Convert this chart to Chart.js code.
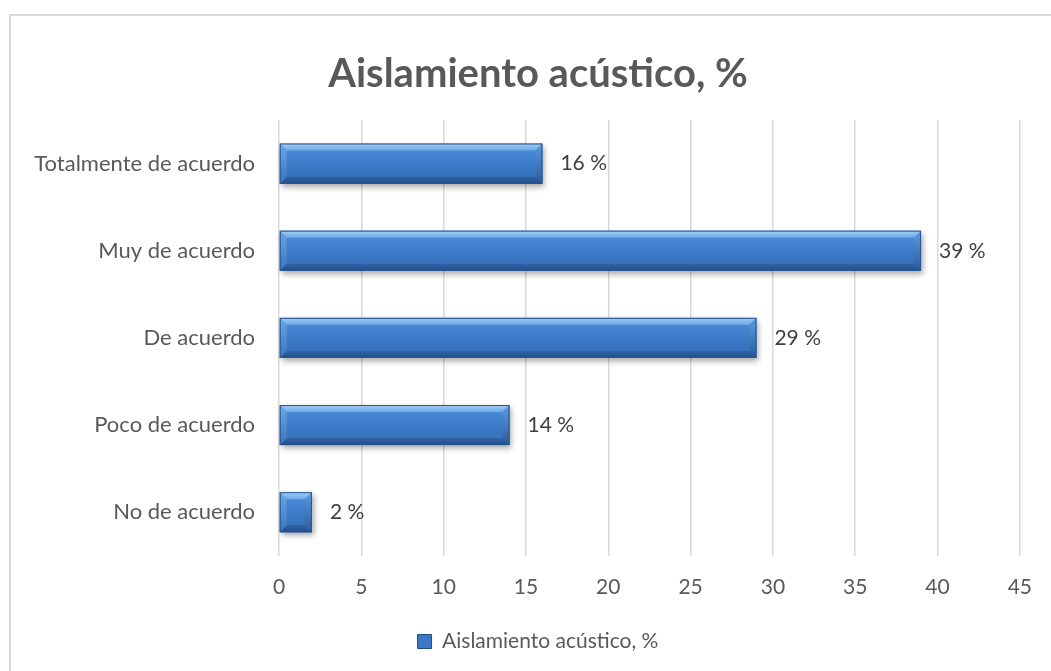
<!DOCTYPE html>
<html lang="es">
<head>
<meta charset="UTF-8">
<title>Aislamiento acústico, %</title>
<script src="https://cdn.jsdelivr.net/npm/chart.js"></script>
<style>
    html, body {
        margin: 0;
        padding: 0;
        background: #ffffff;
        overflow: hidden;
    }
    .wrap {
        position: relative;
        width: 1051px;
        height: 671px;
    }
    /* frame of the chart object, only top and left edges are in view */
    .frame {
        position: absolute;
        left: 9px;
        top: 14px;
        right: -20px;
        bottom: -20px;
        border-left: 2px solid #d9d9d9;
        border-top: 2px solid #d9d9d9;
    }
    #chart {
        position: absolute;
        left: 0;
        top: 0;
    }
</style>
</head>
<body>
<div class="wrap">
    <div class="frame"></div>
    <canvas id="chart" width="1051" height="671"></canvas>
</div>

<script>
    const categories = ['Totalmente de acuerdo', 'Muy de acuerdo', 'De acuerdo', 'Poco de acuerdo', 'No de acuerdo'];
    const percentValues = [16, 39, 29, 14, 2];
    const seriesName = 'Aislamiento acústico, %';
    const axisMax = 45;
    const axisStep = 5;

    const FONT = "Lato, 'Open Sans', sans-serif";

    function poly(ctx, pts, fill) {
        ctx.beginPath();
        ctx.moveTo(pts[0][0], pts[0][1]);
        for (let i = 1; i < pts.length; i++) ctx.lineTo(pts[i][0], pts[i][1]);
        ctx.closePath();
        ctx.fillStyle = fill;
        ctx.fill();
    }

    // bevelled 3D look of the Office bar style
    function drawBevelBar(ctx, x0, x1, yc, h) {
        const top = yc - h / 2, bot = yc + h / 2, w = x1 - x0;
        const b = Math.min(7, w / 2.5, h / 4);

        ctx.save();
        ctx.shadowColor = 'rgba(0,0,0,0.35)';
        ctx.shadowBlur = 6;
        ctx.shadowOffsetX = 2;
        ctx.shadowOffsetY = 3;
        const g = ctx.createLinearGradient(0, top, 0, bot);
        g.addColorStop(0, '#4f8fdb');
        g.addColorStop(0.5, '#3d7cc9');
        g.addColorStop(1, '#336bb2');
        ctx.fillStyle = g;
        ctx.fillRect(x0, top, w, h);
        ctx.restore();

        const gt = ctx.createLinearGradient(0, top, 0, top + b);
        gt.addColorStop(0, '#a2cff5');
        gt.addColorStop(1, '#6ca9e8');
        poly(ctx, [[x0, top], [x1, top], [x1 - b, top + b], [x0 + b, top + b]], gt);

        const gb = ctx.createLinearGradient(0, bot - b, 0, bot);
        gb.addColorStop(0, '#2f62a5');
        gb.addColorStop(1, '#234f8a');
        poly(ctx, [[x0, bot], [x1, bot], [x1 - b, bot - b], [x0 + b, bot - b]], gb);

        const gr = ctx.createLinearGradient(0, top, 0, bot);
        gr.addColorStop(0, '#5d9be0');
        gr.addColorStop(1, '#2a5b9a');
        poly(ctx, [[x1, top], [x1, bot], [x1 - b, bot - b], [x1 - b, top + b]], gr);

        const gl = ctx.createLinearGradient(0, top, 0, bot);
        gl.addColorStop(0, '#6aa8e8');
        gl.addColorStop(1, '#3a74bb');
        poly(ctx, [[x0, top], [x0, bot], [x0 + b, bot - b], [x0 + b, top + b]], gl);

        ctx.strokeStyle = '#2a5590';
        ctx.lineWidth = 1;
        ctx.strokeRect(x0 + 0.5, top + 0.5, w - 1, h - 1);
    }

    const bevelBars = {
        id: 'bevelBars',
        afterDatasetsDraw(chart) {
            const ctx = chart.ctx;
            const meta = chart.getDatasetMeta(0);
            const values = chart.data.datasets[0].data;
            meta.data.forEach((bar, i) => {
                const p = bar.getProps(['x', 'y', 'base', 'height'], true);
                drawBevelBar(ctx, p.base, p.x, p.y, p.height);

                // value label to the right of the bar
                ctx.save();
                ctx.font = '21px ' + FONT;
                ctx.fillStyle = '#404040';
                ctx.textAlign = 'left';
                ctx.textBaseline = 'middle';
                ctx.fillText(Math.round(values[i]) + ' %', p.x + 18, p.y);
                ctx.restore();
            });
        }
    };

    // title and legend sit centred on the frame rather than the canvas
    const centreShift = {
        id: 'centreShift',
        afterLayout(chart) {
            const dx = 22.5;
            [chart.titleBlock, chart.legend].forEach(box => {
                if (!box) return;
                box.left += dx;
                box.right += dx;
            });
        }
    };

    const ctx = document.getElementById('chart').getContext('2d');
    new Chart(ctx, {
        type: 'bar',
        data: {
            labels: categories,
            datasets: [{
                label: seriesName,
                data: percentValues,
                backgroundColor: '#3b78c3',
                borderColor: '#1f4a80',
                borderWidth: 1,
                categoryPercentage: 1,
                barPercentage: 0.46
            }]
        },
        options: {
            indexAxis: 'y',
            responsive: false,
            animation: false,
            layout: {
                padding: { left: 10, right: 30, top: 0, bottom: 9 }
            },
            scales: {
                x: {
                    min: 0,
                    max: axisMax,
                    ticks: {
                        stepSize: axisStep,
                        color: '#595959',
                        font: { family: FONT, size: 21 },
                        padding: 19
                    },
                    grid: {
                        color: '#d9d9d9',
                        lineWidth: 1.5,
                        drawTicks: false
                    },
                    border: { display: false }
                },
                y: {
                    ticks: {
                        color: '#595959',
                        font: { family: FONT, size: 22 },
                        padding: 16
                    },
                    grid: { display: false },
                    border: { display: false },
                    afterFit(scale) {
                        scale.width = 269;
                    }
                }
            },
            plugins: {
                title: {
                    display: true,
                    text: seriesName,
                    color: '#595959',
                    font: { family: FONT, size: 40, weight: 'bold' },
                    padding: { top: 50, bottom: 22 }
                },
                legend: {
                    position: 'bottom',
                    labels: {
                        color: '#595959',
                        font: { family: FONT, size: 21 },
                        boxWidth: 14,
                        boxHeight: 14,
                        padding: 12
                    }
                },
                tooltip: { enabled: false }
            }
        },
        plugins: [bevelBars, centreShift]
    });
</script>
</body>
</html>
